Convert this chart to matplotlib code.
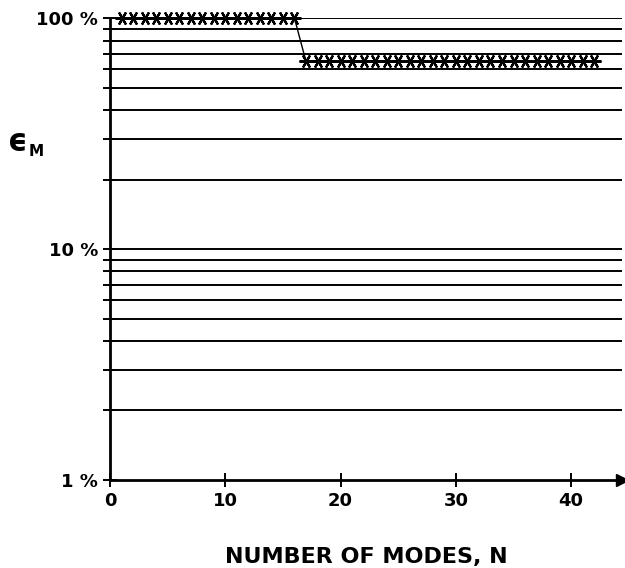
import matplotlib.pyplot as plt
import numpy as np

# values
modes_a = list(range(1, 17))
eps_a = [100] * 16
modes_b = list(range(17, 43))
eps_b = [65] * 26
grid_levels = [2, 3, 4, 5, 6, 7, 8, 9, 10, 20, 30, 40, 50, 60, 70, 80, 90, 100]
xticks = [0, 10, 20, 30, 40]
yticks = [1, 10, 100]
ytick_labels = ['1 %', '10 %', '100 %']

modes = modes_a + modes_b
eps = eps_a + eps_b

fig = plt.figure(figsize=(6.25, 5.68), dpi=100)
ax = fig.add_axes([0.176, 0.155, 0.819, 0.813])
ax.set_yscale('log')
ax.set_xlim(0, 44.4)
ax.set_ylim(1, 100)

for g in grid_levels:
    ax.axhline(g, color='black', lw=1.4, zorder=1)

ax.plot(modes, eps, color='black', lw=1.0, marker=(6, 2, 90), ms=10,
        mew=1.6, zorder=3, clip_on=False)

for s in ['top', 'right']:
    ax.spines[s].set_visible(False)
ax.spines['left'].set_linewidth(2)
ax.spines['bottom'].set_linewidth(2)
ax.plot(1, 0, '>k', ms=9, transform=ax.transAxes, clip_on=False)

ax.set_xticks(xticks)
ax.set_xticklabels([str(t) for t in xticks])
ax.set_yticks(yticks)
ax.set_yticklabels(ytick_labels)
ax.set_yticks(grid_levels[:-1], minor=True)
ax.yaxis.set_minor_formatter(plt.NullFormatter())
ax.tick_params(axis='both', which='both', direction='inout', width=1.4,
               length=10, labelsize=13, colors='black')
ax.tick_params(axis='x', pad=4)
for lab in ax.get_xticklabels() + ax.get_yticklabels():
    lab.set_fontweight('bold')

ax.set_xlabel('NUMBER OF MODES, N', fontsize=16, fontweight='bold', labelpad=26)
fig.text(0.012, 0.735, '\u03f5', fontsize=22, fontweight='bold')
fig.text(0.045, 0.725, 'M', fontsize=11, fontweight='bold')

fig.savefig('out.png', dpi=100)
